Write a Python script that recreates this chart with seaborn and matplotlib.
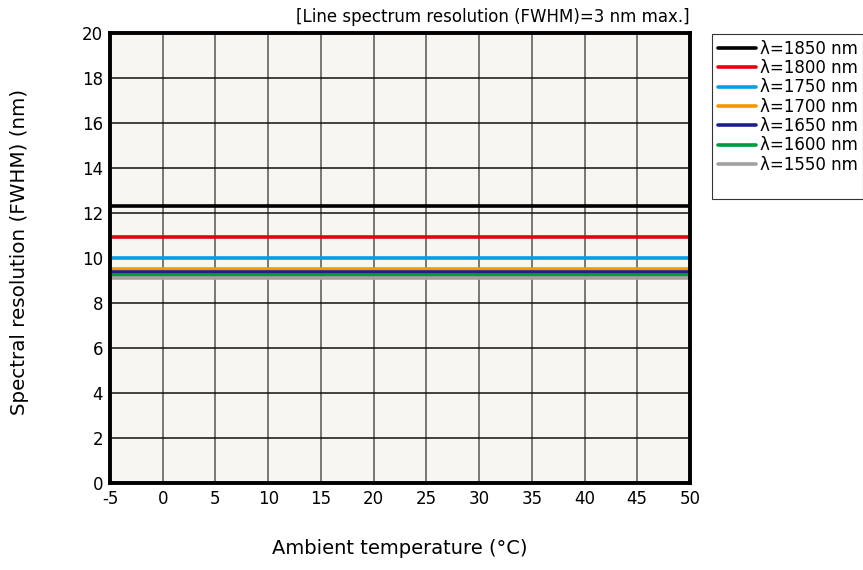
import numpy as np
import pandas as pd
import matplotlib.pyplot as plt
from matplotlib.lines import Line2D
import seaborn as sns

temps = [-5, 50]
wavelengths = ['λ=1850 nm', 'λ=1800 nm', 'λ=1750 nm', 'λ=1700 nm',
               'λ=1650 nm', 'λ=1600 nm', 'λ=1550 nm']
res_1850 = [12.3, 12.3]
res_1800 = [10.95, 10.95]
res_1750 = [10.0, 10.0]
res_1700 = [9.5, 9.5]
res_1650 = [9.38, 9.38]
res_1600 = [9.24, 9.24]
res_1550 = [9.1, 9.1]
colors = ['#000000', '#e60012', '#009fe8', '#f39800', '#1d2088', '#009944', '#9fa0a0']

series = [res_1850, res_1800, res_1750, res_1700, res_1650, res_1600, res_1550]
df = pd.DataFrame([
    {'temp': t, 'res': v, 'wl': wl}
    for wl, vals in zip(wavelengths, series)
    for t, v in zip(temps, vals)
])

sns.set_style('ticks')
plt.rcParams['font.family'] = ['DejaVu Sans']
plt.rcParams['axes.unicode_minus'] = False
plt.rcParams['text.color'] = 'black'
plt.rcParams['axes.labelcolor'] = 'black'
plt.rcParams['xtick.color'] = 'black'
plt.rcParams['ytick.color'] = 'black'

fig = plt.figure(figsize=(8.63, 5.70), dpi=100)
ax = fig.add_axes([0.1275, 0.1526, 0.672, 0.7894])
ax.set_facecolor('#f7f6f0')

sns.lineplot(data=df, x='temp', y='res', hue='wl', hue_order=wavelengths,
             palette=colors, linewidth=2.6, ax=ax, legend=True)

ax.set_xlim(-5, 50)
ax.set_ylim(0, 20)
ax.set_xticks(np.arange(-5, 51, 5))
ax.set_yticks(np.arange(0, 21, 2))
ax.grid(True, axis='y', color='#111111', linewidth=1.1)
ax.grid(True, axis='x', color='#555555', linewidth=1.1)
ax.set_axisbelow(True)
for s in ax.spines.values():
    s.set_linewidth(2.8)
    s.set_color('black')
ax.tick_params(length=0, labelsize=12, pad=5)

ax.set_xlabel('Ambient temperature (°C)', fontsize=14, labelpad=22)
ax.set_ylabel('Spectral resolution (FWHM) (nm)', fontsize=14.3)
ax.yaxis.set_label_coords(-0.14, 0.513)

fig.text(0.7995, 1 - 17 / 570, '[Line spectrum resolution (FWHM)=3 nm max.]',
         ha='right', va='center', fontsize=12)

handles, labels = ax.get_legend_handles_labels()
handles.append(Line2D([], [], color='none'))
labels.append(' ')
ax.legend(handles, labels, loc='upper left', bbox_to_anchor=(712 / 863, 1 - 34 / 570),
          bbox_transform=fig.transFigure, fontsize=12, frameon=True, fancybox=False,
          edgecolor='black', handlelength=2.3, handletextpad=0.2, labelspacing=0.08,
          borderpad=0.35, borderaxespad=0)
ax.get_legend().get_frame().set_linewidth(0.8)

fig.savefig('out.png', dpi=100)
